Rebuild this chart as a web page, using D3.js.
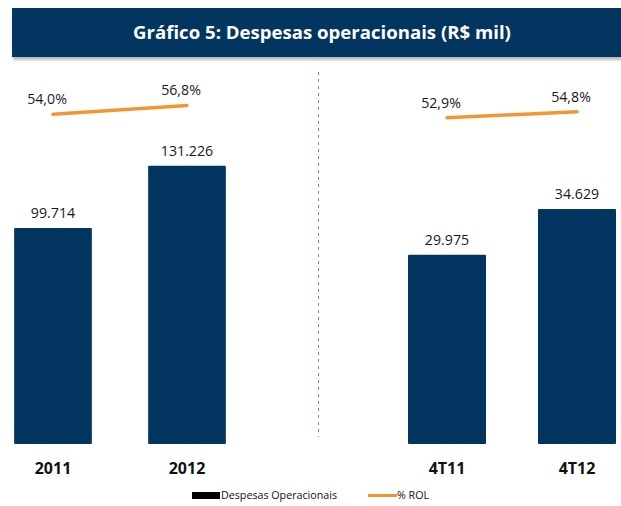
<html>
<head>
<meta charset="utf-8">
<script src="https://d3js.org/d3.v7.min.js"></script>
<style>
  body { margin: 0; background: #fff; }
  text { font-family: "Open Sans", "Liberation Sans", sans-serif; }
</style>
</head>
<body>
<div id="chart"></div>
<script>
// data
var categories = ["2011", "2012", "4T11", "4T12"];
var despesas = [99714, 131226, 29975, 34629];   // R$ mil
var rol = [54.0, 56.8, 52.9, 54.8];              // % ROL
var leftCats = ["2011", "2012"];
var rightCats = ["4T11", "4T12"];
var title = "Gráfico 5: Despesas operacionais (R$ mil)";
var legendLabels = ["Despesas Operacionais", "% ROL"];

var width = 621, height = 506;
var navy = "#02355f", orange = "#f29632";

var br = d3.formatLocale({decimal: ",", thousands: ".", grouping: [3], currency: ["R$", ""]});
var fmtVal = br.format(",d");
var fmtPct = br.format(".1f");

var svg = d3.select("#chart").append("svg").attr("width", width).attr("height", height);

var defs = svg.append("defs");
defs.append("filter").attr("id", "sh").attr("x", "-5%").attr("y", "-20%").attr("width", "110%").attr("height", "160%")
  .append("feGaussianBlur").attr("stdDeviation", 1.6);

// title banner
svg.append("rect").attr("x", 13).attr("y", 11).attr("width", 612).attr("height", 49)
  .attr("fill", "#888").attr("opacity", 0.6).attr("filter", "url(#sh)");
svg.append("rect").attr("x", 12).attr("y", 8).attr("width", 612).attr("height", 49).attr("fill", navy);
svg.append("text").attr("x", 322).attr("y", 39).attr("text-anchor", "middle")
  .attr("fill", "#fff").style("font-size", "18.6px").style("font-weight", "bold").text(title);

// scales: each panel has its own axis
var panels = [
  {cats: leftCats, x: d3.scaleBand().domain(leftCats).range([-14, 254]).paddingInner(0.42).paddingOuter(0.21),
   y: d3.scaleLinear().domain([-9500, 150000]).range([444, 128.7])},
  {cats: rightCats, x: d3.scaleBand().domain(rightCats).range([382, 642]).paddingInner(0.4).paddingOuter(0.2),
   y: d3.scaleLinear().domain([10700, 40000]).range([444, 156.3])}
];
var yLine = d3.scaleLinear().domain([50, 60]).range([126.9, 95.4]);

// divider
svg.append("line").attr("x1", 318.5).attr("x2", 318.5).attr("y1", 72).attr("y2", 437)
  .attr("stroke", "#5b8fd4").attr("stroke-width", 1).attr("stroke-dasharray", "3,4");

panels.forEach(function(p) {
  var rows = p.cats.map(function(c) {
    var i = categories.indexOf(c);
    return {cat: c, val: despesas[i], pct: rol[i]};
  });
  var g = svg.append("g");
  var bw = p.x.bandwidth();

  g.selectAll(".bar").data(rows).enter().append("rect").attr("class", "bar")
    .attr("x", d => p.x(d.cat)).attr("width", bw)
    .attr("y", d => p.y(d.val)).attr("height", d => p.y.range()[0] - p.y(d.val))
    .attr("rx", 1).attr("fill", navy);

  g.selectAll(".val").data(rows).enter().append("text").attr("class", "val")
    .attr("x", d => p.x(d.cat) + bw / 2).attr("y", d => p.y(d.val) - 10)
    .attr("text-anchor", "middle").style("font-size", "14.2px").attr("fill", "#1a1a1a")
    .text(d => fmtVal(d.val));

  g.selectAll(".cat").data(rows).enter().append("text").attr("class", "cat")
    .attr("x", d => p.x(d.cat) + bw / 2).attr("y", 474)
    .attr("text-anchor", "middle").style("font-size", "16px").style("font-weight", "bold").attr("fill", "#111")
    .text(d => d.cat);

  var line = d3.line().x(d => p.x(d.cat) + bw / 2).y(d => yLine(d.pct));
  g.append("path").datum(rows).attr("d", line).attr("fill", "none")
    .attr("stroke", orange).attr("stroke-width", 3.5).attr("stroke-linecap", "round");

  g.selectAll(".pct").data(rows).enter().append("text").attr("class", "pct")
    .attr("x", d => p.x(d.cat) + bw / 2 - 6).attr("y", d => yLine(d.pct) - 10)
    .attr("text-anchor", "middle").style("font-size", "14.2px").attr("fill", "#1a1a1a")
    .text(d => fmtPct(d.pct) + "%");
});

// legend
var lg = svg.append("g").attr("transform", "translate(192,499)");
lg.append("rect").attr("x", 0).attr("y", -7).attr("width", 28).attr("height", 7).attr("fill", "#000");
lg.append("text").attr("x", 29).attr("y", 0).style("font-size", "10.7px").attr("fill", "#111").text(legendLabels[0]);
lg.append("line").attr("x1", 176).attr("x2", 205).attr("y1", -3.5).attr("y2", -3.5)
  .attr("stroke", orange).attr("stroke-width", 3);
lg.append("text").attr("x", 205).attr("y", 0).style("font-size", "10.7px").attr("fill", "#111").text(legendLabels[1]);
</script>
</body>
</html>
